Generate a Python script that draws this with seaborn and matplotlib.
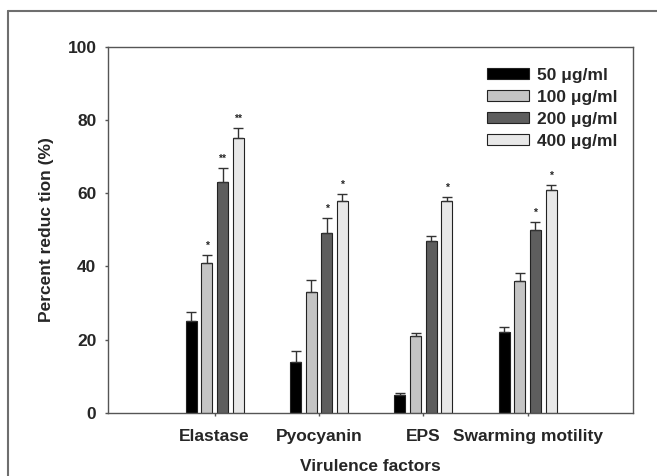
import pandas as pd
import matplotlib
matplotlib.use("Agg")
import matplotlib.pyplot as plt
from matplotlib.lines import Line2D
import seaborn as sns

# data
factors = ["Elastase", "Pyocyanin", "EPS", "Swarming motility"]
doses = ["50 μg/ml", "100 μg/ml", "200 μg/ml", "400 μg/ml"]
reduction = {
    "50 μg/ml": [25, 14, 5, 22],
    "100 μg/ml": [41, 33, 21, 36],
    "200 μg/ml": [63, 49, 47, 50],
    "400 μg/ml": [75, 58, 58, 61],
}
errors = {
    "50 μg/ml": [2.6, 2.9, 0.5, 1.6],
    "100 μg/ml": [2.0, 3.3, 0.9, 2.3],
    "200 μg/ml": [3.8, 4.2, 1.4, 2.2],
    "400 μg/ml": [2.7, 1.8, 1.0, 1.3],
}
stars = {
    "50 μg/ml": ["", "", "", ""],
    "100 μg/ml": ["*", "", "", ""],
    "200 μg/ml": ["**", "*", "", "*"],
    "400 μg/ml": ["**", "*", "*", "*"],
}
colors = ["#000000", "#c4c4c4", "#5e5e5e", "#e8e8e8"]

rows = []
for d in doses:
    for f, v in zip(factors, reduction[d]):
        rows.append({"factor": f, "dose": d, "value": v})
df = pd.DataFrame(rows)

sns.set_style("ticks")
plt.rcParams['font.family'] = ['Liberation Sans', 'DejaVu Sans']
plt.rcParams['font.weight'] = 'bold'

fig = plt.figure(figsize=(6.57, 4.76), dpi=100)
ax = fig.add_axes([0.1648, 0.1324, 0.7987, 0.7695])

sns.barplot(data=df, x="factor", y="value", hue="dose", order=factors,
            hue_order=doses, palette=colors, width=0.6, gap=0.3,
            errorbar=None, edgecolor="#222222", linewidth=0.8, ax=ax)

# one sided error bars and significance marks
for cont, d in zip(ax.containers, doses):
    for bar, v, e, s in zip(cont, reduction[d], errors[d], stars[d]):
        xc = bar.get_x() + bar.get_width() / 2
        ax.errorbar(xc, v, yerr=[[0], [e]], fmt="none", ecolor="#333333",
                    elinewidth=1, capsize=3.5, capthick=1)
        if s:
            ax.text(xc, v + e + 1.2, s, ha="center", va="bottom",
                    fontsize=7.5, fontweight="bold")

ax.set_xlim(-1.02, 4.01)
ax.set_ylim(0, 100)
ax.set_yticks([0, 20, 40, 60, 80, 100])
ax.tick_params(axis="both", labelsize=12.5, length=2.5, width=1, color="#555555")
ax.tick_params(axis="y", pad=6)
ax.tick_params(axis="x", pad=9)
for lab in ax.get_xticklabels() + ax.get_yticklabels():
    lab.set_fontweight("bold")
for sp in ax.spines.values():
    sp.set_visible(True)
    sp.set_color("#555555")
    sp.set_linewidth(1)

ax.set_xlabel("Virulence factors", fontsize=12.5, fontweight="bold", labelpad=11)
ax.set_ylabel("Percent reduc tion (%)", fontsize=12.5, fontweight="bold", labelpad=10)

leg = ax.legend(loc="upper right", bbox_to_anchor=(1.0, 0.985), frameon=False,
                fontsize=12.5, handlelength=2.4, handleheight=0.6,
                handletextpad=0.45, labelspacing=0.4)
for t in leg.get_texts():
    t.set_fontweight("bold")

# outer frame around the figure
fig.add_artist(Line2D([8 / 657, 8 / 657], [0, 1 - 11 / 476], color="#6e6e6e",
                      lw=1.5, transform=fig.transFigure))
fig.add_artist(Line2D([8 / 657, 1], [1 - 11 / 476, 1 - 11 / 476], color="#6e6e6e",
                      lw=1.5, transform=fig.transFigure))

fig.savefig("out.png", dpi=100)
